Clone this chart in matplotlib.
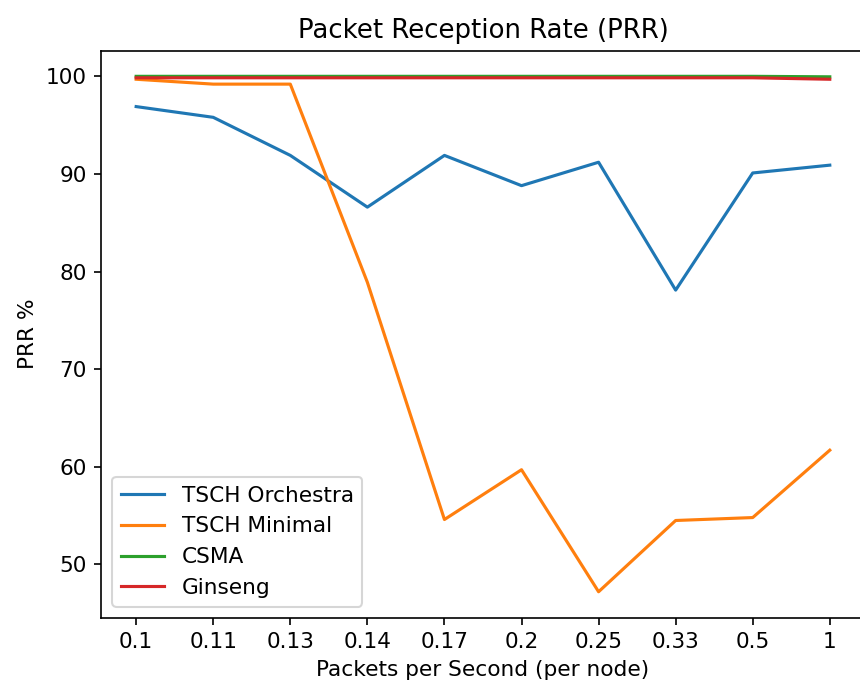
import matplotlib
matplotlib.use("Agg")
import matplotlib.pyplot as plt

# packets per second per node (categorical x axis)
rates = ["0.1", "0.11", "0.13", "0.14", "0.17", "0.2", "0.25", "0.33", "0.5", "1"]

orchestra = [96.9, 95.8, 91.9, 86.6, 91.9, 88.8, 91.2, 78.1, 90.1, 90.9]
minimal = [99.7, 99.2, 99.2, 78.9, 54.6, 59.7, 47.2, 54.5, 54.8, 61.7]
csma = [100.0, 100.0, 100.0, 100.0, 100.0, 100.0, 100.0, 100.0, 100.0, 99.95]
ginseng = [99.85, 99.85, 99.85, 99.85, 99.85, 99.85, 99.85, 99.85, 99.85, 99.7]

plt.rcParams["font.size"] = 10.4
plt.rcParams["axes.titlesize"] = 12.5

fig = plt.figure(figsize=(860 / 150, 685 / 150), dpi=150)
ax = fig.add_axes([0.118, 0.0985, 0.8872, 0.8277])

ax.plot(rates, orchestra, label="TSCH Orchestra")
ax.plot(rates, minimal, label="TSCH Minimal")
ax.plot(rates, csma, label="CSMA")
ax.plot(rates, ginseng, label="Ginseng")

ax.set_title("Packet Reception Rate (PRR)")
ax.set_xlabel("Packets per Second (per node)")
ax.set_ylabel("PRR %")
ax.legend(loc="lower left")

fig.savefig("out.png", dpi=150)
